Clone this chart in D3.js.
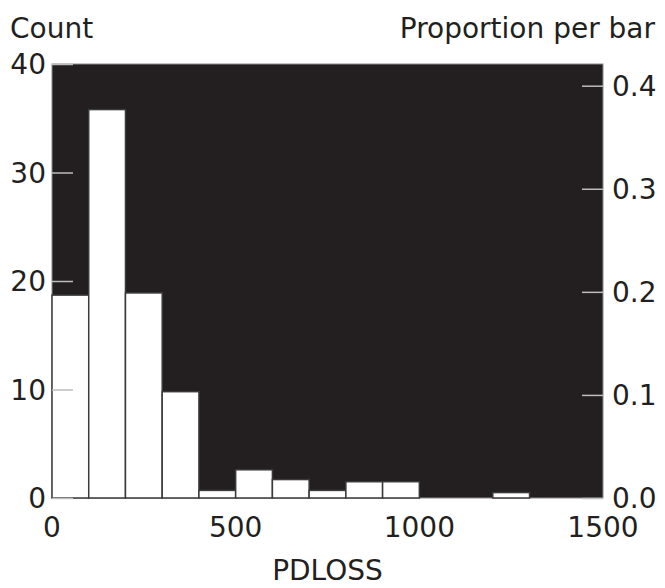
<!DOCTYPE html>
<html>
<head>
<meta charset="utf-8">
<script src="https://cdn.jsdelivr.net/npm/d3@7"></script>
<style>
  body { margin: 0; background: #fff; }
  text { font-family: "DejaVu Sans", Verdana, sans-serif; fill: #231f20; }
</style>
</head>
<body>
<script>
// histogram of PDLOSS, bins of width 100
var binStarts = [0,100,200,300,400,500,600,700,800,900,1000,1100,1200,1300,1400];
var counts = [18.7,35.8,18.9,9.8,0.7,2.6,1.7,0.7,1.5,1.5,0,0,0.5,0,0];
var totalCount = 95;
var countTicks = [0,10,20,30,40];
var propTicks = [0,0.1,0.2,0.3,0.4];
var xTicks = [0,500,1000,1500];

// plot box
var plotLeft = 52, plotRight = 603, plotTop = 64, plotBottom = 498;

var svg = d3.select('body')
  .append('svg')
  .attr('width', 665)
  .attr('height', 588);

var x = d3.scaleLinear().domain([0, 1500]).range([plotLeft, plotRight]);
var y = d3.scaleLinear().domain([0, 40]).range([plotBottom, plotTop]);
var yProp = d3.scaleLinear().domain([0, 40 / totalCount]).range([plotBottom, plotTop]);

// dark plot area
svg.append('rect')
  .attr('x', plotLeft)
  .attr('y', plotTop)
  .attr('width', plotRight - plotLeft)
  .attr('height', plotBottom - plotTop)
  .attr('fill', '#231f20')
  .attr('stroke', '#8a8a8a')
  .attr('stroke-width', 1);

// bars
svg.selectAll('rect.bar')
  .data(counts)
  .enter().append('rect')
  .attr('class', 'bar')
  .attr('x', function(d, i) { return x(binStarts[i]); })
  .attr('y', function(d) { return y(d); })
  .attr('width', function(d, i) { return x(binStarts[i] + 100) - x(binStarts[i]); })
  .attr('height', function(d) { return plotBottom - y(d); })
  .attr('fill', '#fff')
  .attr('stroke', '#3a3a3a')
  .attr('stroke-width', 1.5)
  .style('display', function(d) { return d > 0 ? null : 'none'; });

// left axis (ticks inside)
var leftAxis = svg.append('g')
  .attr('transform', 'translate(' + plotLeft + ',0)')
  .call(d3.axisRight(y).tickValues(countTicks).tickSize(21).tickFormat(''));
leftAxis.select('.domain').remove();
leftAxis.selectAll('line').attr('stroke', '#bdbdbd').attr('stroke-width', 1.5);

svg.selectAll('text.ylab')
  .data(countTicks)
  .enter().append('text')
  .attr('class', 'ylab')
  .attr('x', 46)
  .attr('y', function(d) { return y(d); })
  .attr('dy', '0.36em')
  .attr('text-anchor', 'end')
  .attr('font-size', 28)
  .text(function(d) { return d; });

// right axis (ticks inside)
var rightAxis = svg.append('g')
  .attr('transform', 'translate(' + plotRight + ',0)')
  .call(d3.axisLeft(yProp).tickValues(propTicks).tickSize(21).tickFormat(''));
rightAxis.select('.domain').remove();
rightAxis.selectAll('line').attr('stroke', '#bdbdbd').attr('stroke-width', 1.5);

svg.selectAll('text.plab')
  .data(propTicks)
  .enter().append('text')
  .attr('class', 'plab')
  .attr('x', 612)
  .attr('y', function(d) { return yProp(d); })
  .attr('dy', '0.36em')
  .attr('font-size', 28)
  .text(function(d) { return d3.format('.1f')(d); });

// x labels
svg.selectAll('text.xlab')
  .data(xTicks)
  .enter().append('text')
  .attr('class', 'xlab')
  .attr('x', function(d) { return x(d); })
  .attr('y', 537)
  .attr('text-anchor', 'middle')
  .attr('font-size', 28)
  .text(function(d) { return d; });

// titles
svg.append('text')
  .attr('x', (plotLeft + plotRight) / 2)
  .attr('y', 580)
  .attr('text-anchor', 'middle')
  .attr('font-size', 28)
  .text('PDLOSS');

svg.append('text')
  .attr('x', 10)
  .attr('y', 38)
  .attr('font-size', 28)
  .text('Count');

svg.append('text')
  .attr('x', 655)
  .attr('y', 38)
  .attr('text-anchor', 'end')
  .attr('font-size', 28)
  .text('Proportion per bar');
</script>
</body>
</html>
